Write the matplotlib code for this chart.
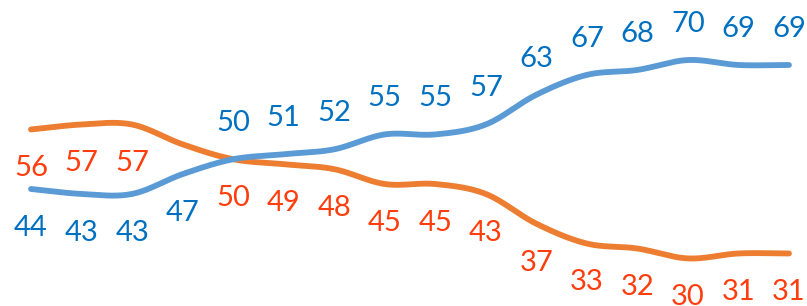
import numpy as np
import matplotlib
matplotlib.use("Agg")
import matplotlib.pyplot as plt

blue_values = [44, 43, 43, 47, 50, 51, 52, 55, 55, 57, 63, 67, 68, 70, 69, 69]
orange_values = [56, 57, 57, 53, 50, 49, 48, 45, 45, 43, 37, 33, 32, 30, 31, 31]
# which labels are shown (orange index 3 has no visible label)
orange_label_shown = [True, True, True, False] + [True] * 12
blue_label_above = [False, False, False, False] + [True] * 12

blue_line = "#5B9BD5"
orange_line = "#ED7D31"
blue_text = "#0070C0"
orange_text = "#FF3D0D"


def smooth(y, n=20):
    """Catmull-Rom spline through the points (Excel-like smoothed line)."""
    y = np.asarray(y, float)
    x = np.arange(len(y), dtype=float)
    P = np.column_stack([x, y])
    P = np.vstack([P[0] - (P[1] - P[0]), P, P[-1] + (P[-1] - P[-2])])
    out = []
    t = np.linspace(0, 1, n, endpoint=False)[:, None]
    for i in range(1, len(P) - 2):
        p0, p1, p2, p3 = P[i - 1], P[i], P[i + 1], P[i + 2]
        seg = 0.5 * ((2 * p1) + (-p0 + p2) * t + (2 * p0 - 5 * p1 + 4 * p2 - p3) * t ** 2
                     + (-p0 + 3 * p1 - 3 * p2 + p3) * t ** 3)
        out.append(seg)
    out.append(P[-2][None, :])
    out = np.vstack(out)
    return out[:, 0], out[:, 1]


fig = plt.figure(figsize=(8.07, 3.06), dpi=100)
ax = fig.add_axes([0, 0, 1, 1])
ax.set_xlim(-0.6135, 15.357)
ax.set_ylim(20.41, 82.1)
ax.axis("off")

for vals, col in [(orange_values, orange_line), (blue_values, blue_line)]:
    xs, ys = smooth(vals)
    ax.plot(xs, ys, color=col, lw=4.2, solid_capstyle="round", solid_joinstyle="round")

font = dict(family=["Lato", "DejaVu Sans"], fontsize=21)
off_above = 26  # points
off_below = 28  # points

for i, v in enumerate(blue_values):
    dy = off_above if blue_label_above[i] else -off_below
    ax.annotate(str(v), (i, v), xytext=(0, dy), textcoords="offset points",
                ha="center", va="center", color=blue_text, **font)

for i, v in enumerate(orange_values):
    if not orange_label_shown[i]:
        continue
    ax.annotate(str(v), (i, v), xytext=(0, -off_below), textcoords="offset points",
                ha="center", va="center", color=orange_text, **font)

fig.savefig("out.png", dpi=100)
